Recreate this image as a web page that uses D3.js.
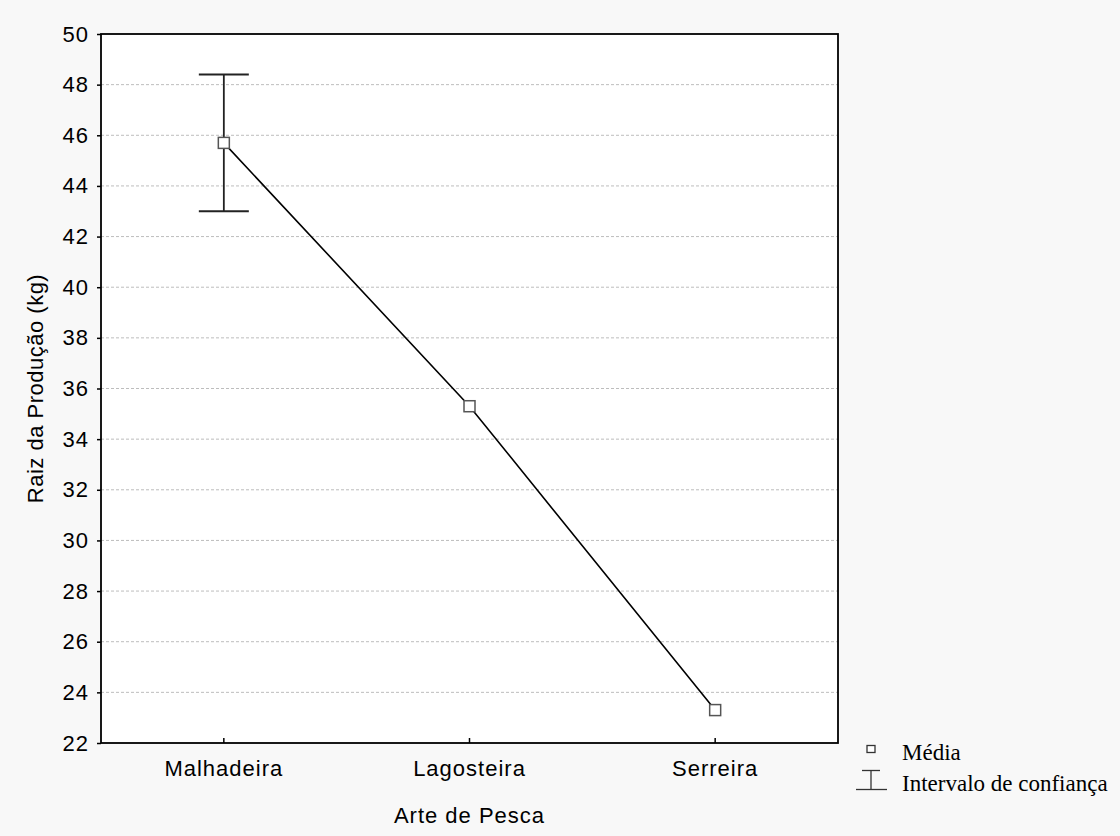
<!DOCTYPE html>
<html><head><meta charset="utf-8">
<script src="https://cdn.jsdelivr.net/npm/d3@7"></script>
<style>body{margin:0;background:#f8f8f8}</style>
</head><body>
<svg id="c" width="1120" height="836"></svg>
<script>
const categories = ["Malhadeira","Lagosteira","Serreira"];
const means = [45.7, 35.3, 23.3];
const ciLow = [43.0, null, null];
const ciHigh = [48.4, null, null];
const yTicks = [22,24,26,28,30,32,34,36,38,40,42,44,46,48,50];
const xTitle = "Arte de Pesca";
const yTitle = "Raiz da Produção (kg)";
const legendLabels = ["Média","Intervalo de confiança"];

const svg = d3.select("#c");
svg.append("rect").attr("width",1120).attr("height",836).attr("fill","#f8f8f8");
const L=101,R=838,T=34,B=743;
const x = d3.scaleBand().domain(categories).range([L,R]);
const y = d3.scaleLinear().domain([22,50]).range([B,T]);
const cx = c => x(c)+x.bandwidth()/2;
const SANS = "Liberation Sans, Arial, sans-serif";
const SERIF = "Liberation Serif, Times New Roman, serif";

svg.append("rect").attr("x",L).attr("y",T).attr("width",R-L).attr("height",B-T).attr("fill","#fff");
// grid
svg.append("g").selectAll("line").data(yTicks.filter(t=>t>22&&t<50)).join("line")
  .attr("x1",L).attr("x2",R).attr("y1",d=>y(d)).attr("y2",d=>y(d))
  .attr("stroke","#bdbdbd").attr("stroke-width",1).attr("stroke-dasharray","3,2");

// y axis
const ya = svg.append("g").attr("transform",`translate(${L},0)`)
  .call(d3.axisLeft(y).tickValues(yTicks).tickSize(4).tickPadding(8));
ya.select(".domain").remove();
ya.selectAll("line").attr("stroke","#000").attr("stroke-width",1.5);
ya.selectAll("text").attr("font-family",SANS).attr("font-size",22).attr("letter-spacing",1).attr("fill","#000");

// x axis
const xa = svg.append("g").attr("transform",`translate(0,${B})`)
  .call(d3.axisBottom(x).tickSize(-5).tickPadding(17));
xa.select(".domain").remove();
xa.selectAll("line").attr("stroke","#000").attr("stroke-width",1.5);
xa.selectAll("text").attr("font-family",SANS).attr("font-size",22).attr("letter-spacing",1).attr("fill","#000");

// frame
svg.append("rect").attr("x",L).attr("y",T).attr("width",R-L).attr("height",B-T)
  .attr("fill","none").attr("stroke","#000").attr("stroke-width",1.8);

// error bars
const eb = svg.append("g").attr("stroke","#222").attr("stroke-width",1.8);
categories.forEach((c,i)=>{
  if(ciLow[i]==null) return;
  const X=cx(c);
  eb.append("line").attr("x1",X).attr("x2",X).attr("y1",y(ciLow[i])).attr("y2",y(ciHigh[i]));
  eb.append("line").attr("x1",X-25).attr("x2",X+25).attr("y1",y(ciLow[i])).attr("y2",y(ciLow[i]));
  eb.append("line").attr("x1",X-25).attr("x2",X+25).attr("y1",y(ciHigh[i])).attr("y2",y(ciHigh[i]));
});

// line
const line = d3.line().x((d,i)=>cx(categories[i])).y(d=>y(d));
svg.append("path").datum(means).attr("d",line).attr("fill","none").attr("stroke","#000").attr("stroke-width",1.6);

// markers
svg.append("g").selectAll("rect").data(means).join("rect")
  .attr("x",(d,i)=>cx(categories[i])-5.5).attr("y",d=>y(d)-5.5)
  .attr("width",11).attr("height",11).attr("fill","#fff").attr("stroke","#555").attr("stroke-width",1.5);

// titles
svg.append("text").attr("x",(L+R)/2).attr("y",823).attr("text-anchor","middle")
  .attr("font-family",SANS).attr("font-size",22).attr("letter-spacing",1).text(xTitle);
svg.append("text").attr("transform",`translate(43,${(T+B)/2}) rotate(-90)`).attr("text-anchor","middle")
  .attr("font-family",SANS).attr("font-size",22).attr("letter-spacing",0.5).text(yTitle);

// legend
const lg = svg.append("g");
lg.append("rect").attr("x",867).attr("y",745.5).attr("width",8).attr("height",7)
  .attr("fill","#fff").attr("stroke","#333").attr("stroke-width",1.3);
lg.append("text").attr("x",902).attr("y",760).attr("font-family",SERIF)
  .attr("font-size",23).text(legendLabels[0]);
const lb = lg.append("g").attr("stroke","#333").attr("stroke-width",1.3);
lb.append("line").attr("x1",862).attr("x2",880).attr("y1",770.5).attr("y2",770.5);
lb.append("line").attr("x1",871).attr("x2",871).attr("y1",770.5).attr("y2",789.5);
lb.append("line").attr("x1",856).attr("x2",887).attr("y1",789.5).attr("y2",789.5);
lg.append("text").attr("x",902).attr("y",791).attr("font-family",SERIF)
  .attr("font-size",23).text(legendLabels[1]);
</script>
</body></html>
